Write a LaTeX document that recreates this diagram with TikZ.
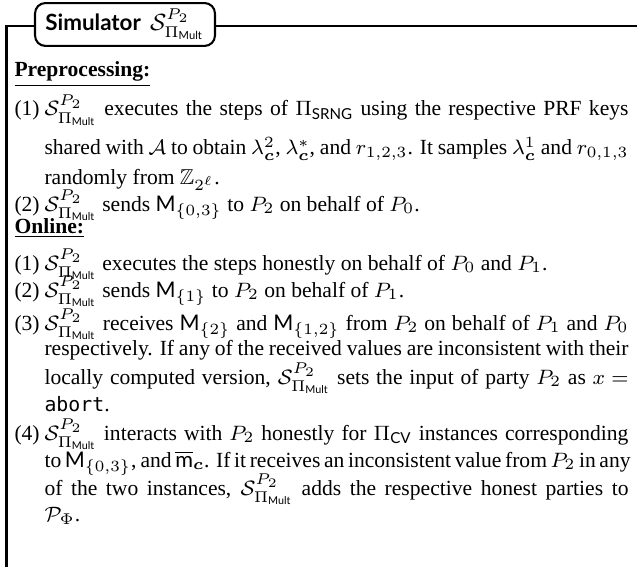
\documentclass[tikz,border=0pt]{standalone}
\usepackage{amsmath,amssymb}
\usepackage{fontspec}
\setmainfont{Liberation Serif}
\setsansfont{Lato}
\setmonofont[Scale=0.92]{DejaVu Sans Mono}
\newcommand\SimP{\mathcal{S}^{P_2}_{\Pi_{\mathsf{Mult}}}}
\newcommand\cb{\boldsymbol{c}}
\newlength\tw
\setlength\tw{224.6pt}
\newcommand\jl[1]{\makebox[\tw][s]{#1}}
\tikzset{
  px/.style={x=0.3846pt,y=-0.3846pt},
  txt/.style={anchor=base west,inner sep=0pt,font=\fontsize{8.3pt}{10pt}\selectfont},
  rule/.style={line width=1.15pt},
  titlebox/.style={draw,line width=0.8pt,rounded corners=4pt,fill=white,
    minimum width=69.2pt,minimum height=16.5pt,inner sep=0pt,
    font=\fontsize{8.6pt}{10pt}\selectfont}
}
\begin{document}
\begin{tikzpicture}[px]
\useasboundingbox (0,0) rectangle (637,567);
% frame: top rule and left rule
\coordinate (tl) at (6.5,26);
\coordinate (tr) at (637,26);
\coordinate (bl) at (6.5,567);
\draw[rule] (tr) -- (tl) -- (bl);
% title tab
\node[titlebox] (title) at (125,24.5) {\textsf{\bfseries Simulator}\, $\SimP$};

% preprocessing phase
\node[txt] (hpre) at (14,77) {\textbf{\underline{Preprocessing:}}};
\node[txt] (pl1) at (14,116) {(1)};
\node[txt] (p1a) at (44,116) {\jl{$\SimP$ executes the steps of $\Pi_{\mathsf{SRNG}}$ using the respective PRF keys}};
\node[txt] (p1b) at (44,155) {\jl{shared with $\mathcal{A}$ to obtain $\lambda_{\cb}^2$, $\lambda_{\cb}^*$, and $r_{1,2,3}$. It samples $\lambda_{\cb}^1$ and $r_{0,1,3}$}};
\node[txt] (p1c) at (44,184) {randomly from $\mathbb{Z}_{2^\ell}$.};
\node[txt] (pl2) at (14,211) {(2)};
\node[txt] (p2a) at (44,211) {$\SimP$ sends $\mathsf{M}_{\{0,3\}}$ to $P_2$ on behalf of $P_0$.};

% online phase
\node[txt] (hon) at (14,233) {\textbf{\underline{Online:}}};
\node[txt] (ol1) at (14,270) {(1)};
\node[txt] (o1a) at (44,270) {$\SimP$ executes the steps honestly on behalf of $P_0$ and $P_1$.};
\node[txt] (ol2) at (14,297) {(2)};
\node[txt] (o2a) at (44,297) {$\SimP$ sends $\mathsf{M}_{\{1\}}$ to $P_2$ on behalf of $P_1$.};
\node[txt] (ol3) at (14,330) {(3)};
\node[txt] (o3a) at (44,330) {\jl{$\SimP$ receives $\mathsf{M}_{\{2\}}$ and $\mathsf{M}_{\{1,2\}}$ from $P_2$ on behalf of $P_1$ and $P_0$}};
\node[txt] (o3b) at (44,355) {\jl{respectively. If any of the received values are inconsistent with their}};
\node[txt] (o3c) at (44,384) {\jl{locally computed version, $\SimP$ sets the input of party $P_2$ as $x\mkern5mu{=}$}};
\node[txt] (o3d) at (44,411) {\texttt{abort}.};
\node[txt] (ol4) at (14,440) {(4)};
\node[txt] (o4a) at (44,440) {\jl{$\SimP$ interacts with $P_2$ honestly for $\Pi_{\mathsf{CV}}$ instances corresponding}};
\node[txt] (o4b) at (44,467) {\jl{to $\mathsf{M}_{\{0,3\}}$, and $\overline{\mathsf{m}}_{\cb}$. If it receives an inconsistent value from $P_2$ in any}};
\node[txt] (o4c) at (44,495) {\jl{of the two instances, $\SimP$ adds the respective honest parties to}};
\node[txt] (o4d) at (44,521) {$\mathcal{P}_\Phi$.};
\end{tikzpicture}
\end{document}
